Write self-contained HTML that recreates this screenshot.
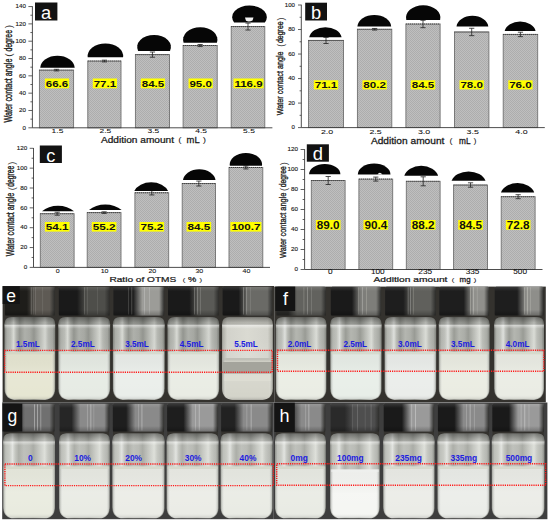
<!DOCTYPE html>
<html><head><meta charset="utf-8"><style>
html,body{margin:0;padding:0;background:#fff;}
body{width:550px;height:523px;overflow:hidden;}
svg{display:block;font-family:"Liberation Sans", sans-serif;}
</style></head><body>
<svg width="550" height="523" viewBox="0 0 550 523">
<defs>
<pattern id="hatch" width="2" height="2" patternUnits="userSpaceOnUse">
<rect width="2" height="2" fill="#bfbfbf"/><rect width="1" height="1" fill="#adadad"/><rect x="1" y="1" width="1" height="1" fill="#adadad"/>
</pattern>
<linearGradient id="capV" x1="0" x2="0" y1="0" y2="1">
<stop offset="0" stop-color="#fff" stop-opacity="0.12"/><stop offset="0.15" stop-color="#fff" stop-opacity="0"/><stop offset="0.8" stop-color="#000" stop-opacity="0"/><stop offset="1" stop-color="#000" stop-opacity="0.25"/>
</linearGradient>
<linearGradient id="glass" x1="0" x2="1" y1="0" y2="0">
<stop offset="0" stop-color="#7c7e78"/><stop offset="0.05" stop-color="#a8aaa4"/><stop offset="0.12" stop-color="#b6b8b2"/><stop offset="0.18" stop-color="#d6d8d2"/><stop offset="0.23" stop-color="#b0b2ac"/><stop offset="0.3" stop-color="#8e908a"/><stop offset="0.4" stop-color="#aaaca6"/><stop offset="0.5" stop-color="#a2a49e"/><stop offset="0.58" stop-color="#8e908a"/><stop offset="0.68" stop-color="#aeb0aa"/><stop offset="0.8" stop-color="#d2d4ce"/><stop offset="0.86" stop-color="#b2b4ae"/><stop offset="0.95" stop-color="#9ea09a"/><stop offset="1" stop-color="#747670"/>
</linearGradient>
<linearGradient id="glassG" x1="0" x2="1" y1="0" y2="0">
<stop offset="0" stop-color="#8a8c86"/><stop offset="0.05" stop-color="#babcb6"/><stop offset="0.12" stop-color="#c6c8c2"/><stop offset="0.18" stop-color="#e0e2de"/><stop offset="0.23" stop-color="#c2c4be"/><stop offset="0.3" stop-color="#a8aaa4"/><stop offset="0.4" stop-color="#bcbeb8"/><stop offset="0.5" stop-color="#b6b8b2"/><stop offset="0.58" stop-color="#a6a8a2"/><stop offset="0.68" stop-color="#c0c2bc"/><stop offset="0.8" stop-color="#dcded8"/><stop offset="0.86" stop-color="#c4c6c0"/><stop offset="0.95" stop-color="#b0b2ac"/><stop offset="1" stop-color="#80827c"/>
</linearGradient>
<linearGradient id="glassF" x1="0" x2="1" y1="0" y2="0">
<stop offset="0" stop-color="#80827c"/><stop offset="0.05" stop-color="#aeb0aa"/><stop offset="0.12" stop-color="#bcbeb8"/><stop offset="0.18" stop-color="#dcdeda"/><stop offset="0.23" stop-color="#b6b8b2"/><stop offset="0.3" stop-color="#959791"/><stop offset="0.4" stop-color="#b0b2ac"/><stop offset="0.5" stop-color="#a8aaa4"/><stop offset="0.58" stop-color="#949690"/><stop offset="0.68" stop-color="#b4b6b0"/><stop offset="0.8" stop-color="#d8dad4"/><stop offset="0.86" stop-color="#b8bab4"/><stop offset="0.95" stop-color="#a4a6a0"/><stop offset="1" stop-color="#787a74"/>
</linearGradient>
<linearGradient id="glassE5" x1="0" x2="1" y1="0" y2="0">
<stop offset="0" stop-color="#a4a49c"/><stop offset="0.1" stop-color="#d0d0c8"/><stop offset="0.5" stop-color="#d8d8d0"/><stop offset="0.9" stop-color="#d0d0c8"/><stop offset="1" stop-color="#a4a49c"/>
</linearGradient>
<linearGradient id="glassV" x1="0" x2="0" y1="0" y2="1">
<stop offset="0" stop-color="#000" stop-opacity="0.4"/><stop offset="0.07" stop-color="#000" stop-opacity="0.15"/><stop offset="0.1" stop-color="#fff" stop-opacity="0.45"/><stop offset="0.14" stop-color="#fff" stop-opacity="0.05"/><stop offset="0.3" stop-color="#fff" stop-opacity="0.05"/><stop offset="0.45" stop-color="#fff" stop-opacity="0.12"/><stop offset="1" stop-color="#fff" stop-opacity="0"/>
</linearGradient>
<linearGradient id="liqH" x1="0" x2="1" y1="0" y2="0">
<stop offset="0" stop-color="#70746e" stop-opacity="0.45"/><stop offset="0.07" stop-color="#fff" stop-opacity="0"/><stop offset="0.93" stop-color="#fff" stop-opacity="0"/><stop offset="1" stop-color="#70746e" stop-opacity="0.45"/>
</linearGradient>
<linearGradient id="liqV" x1="0" x2="0" y1="0" y2="1">
<stop offset="0" stop-color="#000" stop-opacity="0.03"/><stop offset="0.5" stop-color="#fff" stop-opacity="0.08"/><stop offset="0.9" stop-color="#fff" stop-opacity="0"/><stop offset="1" stop-color="#000" stop-opacity="0.12"/>
</linearGradient>
<linearGradient id="capV" x1="0" x2="0" y1="0" y2="1">
<stop offset="0" stop-color="#fff" stop-opacity="0.25"/><stop offset="0.06" stop-color="#fff" stop-opacity="0.05"/><stop offset="0.8" stop-color="#000" stop-opacity="0"/><stop offset="0.9" stop-color="#000" stop-opacity="0.2"/><stop offset="0.95" stop-color="#fff" stop-opacity="0.15"/><stop offset="1" stop-color="#000" stop-opacity="0.3"/>
</linearGradient>
<linearGradient id="cg0" x1="0" x2="1" y1="0" y2="0"><stop offset="0" stop-color="#1e1d1a"/><stop offset="0.44" stop-color="#1e1d1a"/><stop offset="0.62" stop-color="#5e5a54"/><stop offset="0.9" stop-color="#5e5a54"/><stop offset="1" stop-color="#2e2e2c"/></linearGradient>
<linearGradient id="cg1" x1="0" x2="1" y1="0" y2="0"><stop offset="0" stop-color="#1a1a1a"/><stop offset="0.36" stop-color="#1a1a1a"/><stop offset="0.54" stop-color="#4e4e4a"/><stop offset="0.9" stop-color="#4e4e4a"/><stop offset="1" stop-color="#2e2e2c"/></linearGradient>
<linearGradient id="cg2" x1="0" x2="1" y1="0" y2="0"><stop offset="0" stop-color="#1e1e1e"/><stop offset="0.39" stop-color="#1e1e1e"/><stop offset="0.57" stop-color="#9c9c98"/><stop offset="0.9" stop-color="#9c9c98"/><stop offset="1" stop-color="#2e2e2c"/></linearGradient>
<linearGradient id="cg3" x1="0" x2="1" y1="0" y2="0"><stop offset="0" stop-color="#1a1a1a"/><stop offset="0.42" stop-color="#1a1a1a"/><stop offset="0.6" stop-color="#5a5a56"/><stop offset="0.9" stop-color="#5a5a56"/><stop offset="1" stop-color="#2e2e2c"/></linearGradient>
<linearGradient id="cg4" x1="0" x2="1" y1="0" y2="0"><stop offset="0" stop-color="#1a1a1a"/><stop offset="0.32" stop-color="#1a1a1a"/><stop offset="0.5" stop-color="#6a6a66"/><stop offset="0.9" stop-color="#6a6a66"/><stop offset="1" stop-color="#2e2e2c"/></linearGradient>
<linearGradient id="cg5" x1="0" x2="1" y1="0" y2="0"><stop offset="0" stop-color="#2a2a28"/><stop offset="0.24" stop-color="#2a2a28"/><stop offset="0.42" stop-color="#62625e"/><stop offset="0.9" stop-color="#62625e"/><stop offset="1" stop-color="#2e2e2c"/></linearGradient>
<linearGradient id="cg6" x1="0" x2="1" y1="0" y2="0"><stop offset="0" stop-color="#1a1a1a"/><stop offset="0.42" stop-color="#1a1a1a"/><stop offset="0.6" stop-color="#7e7e7a"/><stop offset="0.9" stop-color="#7e7e7a"/><stop offset="1" stop-color="#2e2e2c"/></linearGradient>
<linearGradient id="cg7" x1="0" x2="1" y1="0" y2="0"><stop offset="0" stop-color="#1e1e1e"/><stop offset="0.36" stop-color="#1e1e1e"/><stop offset="0.54" stop-color="#60605c"/><stop offset="0.9" stop-color="#60605c"/><stop offset="1" stop-color="#2e2e2c"/></linearGradient>
<linearGradient id="cg8" x1="0" x2="1" y1="0" y2="0"><stop offset="0" stop-color="#1e1e1e"/><stop offset="0.49" stop-color="#1e1e1e"/><stop offset="0.67" stop-color="#90908c"/><stop offset="0.9" stop-color="#90908c"/><stop offset="1" stop-color="#2e2e2c"/></linearGradient>
<linearGradient id="cg9" x1="0" x2="1" y1="0" y2="0"><stop offset="0" stop-color="#1e1e1e"/><stop offset="0.46" stop-color="#1e1e1e"/><stop offset="0.64" stop-color="#8e8e8a"/><stop offset="0.9" stop-color="#8e8e8a"/><stop offset="1" stop-color="#2e2e2c"/></linearGradient>
<linearGradient id="cg10" x1="0" x2="1" y1="0" y2="0"><stop offset="0" stop-color="#2a2a2a"/><stop offset="0.24" stop-color="#2a2a2a"/><stop offset="0.42" stop-color="#707070"/><stop offset="0.9" stop-color="#707070"/><stop offset="1" stop-color="#2e2e2c"/></linearGradient>
<linearGradient id="cg11" x1="0" x2="1" y1="0" y2="0"><stop offset="0" stop-color="#262626"/><stop offset="0.24" stop-color="#262626"/><stop offset="0.42" stop-color="#8a8a8a"/><stop offset="0.9" stop-color="#8a8a8a"/><stop offset="1" stop-color="#2e2e2c"/></linearGradient>
<linearGradient id="cg12" x1="0" x2="1" y1="0" y2="0"><stop offset="0" stop-color="#1e1e1e"/><stop offset="0.26" stop-color="#1e1e1e"/><stop offset="0.44" stop-color="#8a8a8a"/><stop offset="0.9" stop-color="#8a8a8a"/><stop offset="1" stop-color="#2e2e2c"/></linearGradient>
<linearGradient id="cg13" x1="0" x2="1" y1="0" y2="0"><stop offset="0" stop-color="#1e1e1e"/><stop offset="0.32" stop-color="#1e1e1e"/><stop offset="0.5" stop-color="#9a9a9a"/><stop offset="0.9" stop-color="#9a9a9a"/><stop offset="1" stop-color="#2e2e2c"/></linearGradient>
<linearGradient id="cg14" x1="0" x2="1" y1="0" y2="0"><stop offset="0" stop-color="#222222"/><stop offset="0.26" stop-color="#222222"/><stop offset="0.44" stop-color="#8a8a8a"/><stop offset="0.9" stop-color="#8a8a8a"/><stop offset="1" stop-color="#2e2e2c"/></linearGradient>
<linearGradient id="cg15" x1="0" x2="1" y1="0" y2="0"><stop offset="0" stop-color="#3a3a3a"/><stop offset="0.34" stop-color="#3a3a3a"/><stop offset="0.52" stop-color="#8a8a8a"/><stop offset="0.9" stop-color="#8a8a8a"/><stop offset="1" stop-color="#2e2e2c"/></linearGradient>
<linearGradient id="cg16" x1="0" x2="1" y1="0" y2="0"><stop offset="0" stop-color="#2a2a2a"/><stop offset="0.29" stop-color="#2a2a2a"/><stop offset="0.47" stop-color="#4e4e4e"/><stop offset="0.9" stop-color="#4e4e4e"/><stop offset="1" stop-color="#2e2e2c"/></linearGradient>
<linearGradient id="cg17" x1="0" x2="1" y1="0" y2="0"><stop offset="0" stop-color="#1a1a1a"/><stop offset="0.36" stop-color="#1a1a1a"/><stop offset="0.54" stop-color="#9a9a9a"/><stop offset="0.9" stop-color="#9a9a9a"/><stop offset="1" stop-color="#2e2e2c"/></linearGradient>
<linearGradient id="cg18" x1="0" x2="1" y1="0" y2="0"><stop offset="0" stop-color="#1a1a1a"/><stop offset="0.32" stop-color="#1a1a1a"/><stop offset="0.5" stop-color="#8a8a8a"/><stop offset="0.9" stop-color="#8a8a8a"/><stop offset="1" stop-color="#2e2e2c"/></linearGradient>
<linearGradient id="cg19" x1="0" x2="1" y1="0" y2="0"><stop offset="0" stop-color="#1a1a1a"/><stop offset="0.32" stop-color="#1a1a1a"/><stop offset="0.5" stop-color="#9a9a9a"/><stop offset="0.9" stop-color="#9a9a9a"/><stop offset="1" stop-color="#2e2e2c"/></linearGradient>
</defs>
<rect x="39.4" y="70.12" width="34.2" height="57.68" fill="url(#hatch)" stroke="#707070" stroke-width="0.9"/>
<line x1="39.4" y1="70.12" x2="73.6" y2="70.12" stroke="#333" stroke-width="0.9" stroke-dasharray="1,1"/>
<path d="M56.5,69.32 V70.92 M53.9,69.32 H59.1 M53.9,70.92 H59.1" stroke="#222" stroke-width="0.8" fill="none"/>
<rect x="87.8" y="61.03" width="33.2" height="66.77" fill="url(#hatch)" stroke="#707070" stroke-width="0.9"/>
<line x1="87.8" y1="61.03" x2="121" y2="61.03" stroke="#333" stroke-width="0.9" stroke-dasharray="1,1"/>
<path d="M104.4,60.17 V61.9 M101.8,60.17 H107 M101.8,61.9 H107" stroke="#222" stroke-width="0.8" fill="none"/>
<rect x="135.4" y="54.62" width="34.1" height="73.18" fill="url(#hatch)" stroke="#707070" stroke-width="0.9"/>
<line x1="135.4" y1="54.62" x2="169.5" y2="54.62" stroke="#333" stroke-width="0.9" stroke-dasharray="1,1"/>
<path d="M152.45,52.03 V57.22 M149.85,52.03 H155.05 M149.85,57.22 H155.05" stroke="#222" stroke-width="0.8" fill="none"/>
<rect x="183.1" y="45.53" width="34.1" height="82.27" fill="url(#hatch)" stroke="#707070" stroke-width="0.9"/>
<line x1="183.1" y1="45.53" x2="217.2" y2="45.53" stroke="#333" stroke-width="0.9" stroke-dasharray="1,1"/>
<path d="M200.15,44.49 V46.57 M197.55,44.49 H202.75 M197.55,46.57 H202.75" stroke="#222" stroke-width="0.8" fill="none"/>
<rect x="231.2" y="26.56" width="33.6" height="101.24" fill="url(#hatch)" stroke="#707070" stroke-width="0.9"/>
<line x1="231.2" y1="26.56" x2="264.8" y2="26.56" stroke="#333" stroke-width="0.9" stroke-dasharray="1,1"/>
<path d="M248,23.1 V30.03 M245.4,23.1 H250.6 M245.4,30.03 H250.6" stroke="#222" stroke-width="0.8" fill="none"/>
<path d="M40.2,67.7 A17.27,12.44 0 0 1 74.7,67.7 Z" fill="#060606"/>
<path d="M87.7,57.3 A17.76,12.78 0 1 1 123.1,57.3 Z" fill="#060606"/>
<path d="M138.1,51 A16.87,12.15 0 1 1 170,51 Z" fill="#060606"/>
<path d="M183.6,42.8 A17.2,12.39 0 1 1 216.9,42.8 Z" fill="#060606"/>
<path d="M234.07,22.4 A17.3,11.64 0 1 1 264.93,22.4 Z" fill="#060606"/>
<path d="M245,17.6 H253.5 L252.5,20.5 Q249,22.2 246,20.8 Z" fill="#f4f4f4"/>
<rect x="44.9" y="78.5" width="24.2" height="9.8" fill="#ffff00"/>
<text font-size="11.51" font-weight="bold" fill="#111" transform="translate(45.8 86.8) scale(1 0.83)">66.6</text>
<rect x="92.8" y="78.5" width="24.2" height="9.8" fill="#ffff00"/>
<text font-size="11.51" font-weight="bold" fill="#111" transform="translate(93.7 86.8) scale(1 0.83)">77.1</text>
<rect x="140.85" y="78.5" width="24.2" height="9.8" fill="#ffff00"/>
<text font-size="11.51" font-weight="bold" fill="#111" transform="translate(141.75 86.8) scale(1 0.83)">84.5</text>
<rect x="188.55" y="78.5" width="24.2" height="9.8" fill="#ffff00"/>
<text font-size="11.51" font-weight="bold" fill="#111" transform="translate(189.45 86.8) scale(1 0.83)">95.0</text>
<rect x="233.5" y="78.5" width="30" height="9.8" fill="#ffff00"/>
<text font-size="11.52" font-weight="bold" fill="#111" transform="translate(234.4 86.8) scale(1 0.83)">116.9</text>
<path d="M32.4,6.26 V127.8 H272.4" stroke="#3a3a3a" stroke-width="0.9" fill="none"/>
<line x1="28.4" y1="127.8" x2="32.4" y2="127.8" stroke="#3a3a3a" stroke-width="0.8"/>
<text font-size="6.23" fill="#1a1a1a" transform="translate(22.43 129.5) scale(1 0.79)" stroke="#1a1a1a" stroke-width="0.15">0</text>
<line x1="30.4" y1="119.14" x2="32.4" y2="119.14" stroke="#3a3a3a" stroke-width="0.8"/>
<line x1="28.4" y1="110.48" x2="32.4" y2="110.48" stroke="#3a3a3a" stroke-width="0.8"/>
<text font-size="6.23" fill="#1a1a1a" transform="translate(18.97 112.18) scale(1 0.79)" stroke="#1a1a1a" stroke-width="0.15">20</text>
<line x1="30.4" y1="101.82" x2="32.4" y2="101.82" stroke="#3a3a3a" stroke-width="0.8"/>
<line x1="28.4" y1="93.16" x2="32.4" y2="93.16" stroke="#3a3a3a" stroke-width="0.8"/>
<text font-size="6.23" fill="#1a1a1a" transform="translate(18.97 94.86) scale(1 0.79)" stroke="#1a1a1a" stroke-width="0.15">40</text>
<line x1="30.4" y1="84.5" x2="32.4" y2="84.5" stroke="#3a3a3a" stroke-width="0.8"/>
<line x1="28.4" y1="75.84" x2="32.4" y2="75.84" stroke="#3a3a3a" stroke-width="0.8"/>
<text font-size="6.23" fill="#1a1a1a" transform="translate(18.97 77.54) scale(1 0.79)" stroke="#1a1a1a" stroke-width="0.15">60</text>
<line x1="30.4" y1="67.18" x2="32.4" y2="67.18" stroke="#3a3a3a" stroke-width="0.8"/>
<line x1="28.4" y1="58.52" x2="32.4" y2="58.52" stroke="#3a3a3a" stroke-width="0.8"/>
<text font-size="6.23" fill="#1a1a1a" transform="translate(18.97 60.22) scale(1 0.79)" stroke="#1a1a1a" stroke-width="0.15">80</text>
<line x1="30.4" y1="49.86" x2="32.4" y2="49.86" stroke="#3a3a3a" stroke-width="0.8"/>
<line x1="28.4" y1="41.2" x2="32.4" y2="41.2" stroke="#3a3a3a" stroke-width="0.8"/>
<text font-size="6.23" fill="#1a1a1a" transform="translate(15.5 42.9) scale(1 0.79)" stroke="#1a1a1a" stroke-width="0.15">100</text>
<line x1="30.4" y1="32.54" x2="32.4" y2="32.54" stroke="#3a3a3a" stroke-width="0.8"/>
<line x1="28.4" y1="23.88" x2="32.4" y2="23.88" stroke="#3a3a3a" stroke-width="0.8"/>
<text font-size="6.23" fill="#1a1a1a" transform="translate(15.5 25.58) scale(1 0.79)" stroke="#1a1a1a" stroke-width="0.15">120</text>
<line x1="30.4" y1="15.22" x2="32.4" y2="15.22" stroke="#3a3a3a" stroke-width="0.8"/>
<line x1="28.4" y1="6.56" x2="32.4" y2="6.56" stroke="#3a3a3a" stroke-width="0.8"/>
<text font-size="6.23" fill="#1a1a1a" transform="translate(15.5 8.26) scale(1 0.79)" stroke="#1a1a1a" stroke-width="0.15">140</text>
<text font-size="8.45" fill="#111" transform="translate(51.62 133.2) scale(1 0.69)" stroke="#111" stroke-width="0.1">1.5</text>
<text font-size="8.45" fill="#111" transform="translate(99.53 133.2) scale(1 0.69)" stroke="#111" stroke-width="0.1">2.5</text>
<text font-size="8.45" fill="#111" transform="translate(147.57 133.2) scale(1 0.69)" stroke="#111" stroke-width="0.1">3.5</text>
<text font-size="8.45" fill="#111" transform="translate(195.27 133.2) scale(1 0.69)" stroke="#111" stroke-width="0.1">4.5</text>
<text font-size="8.45" fill="#111" transform="translate(243.12 133.2) scale(1 0.69)" stroke="#111" stroke-width="0.1">5.5</text>
<text font-size="10.13" fill="#1a1a1a" transform="translate(100.9 142.9) scale(1 0.82)" stroke="#1a1a1a" stroke-width="0.3">Addition amount</text>
<text font-size="9.91" fill="#1a1a1a" transform="translate(178.3 142.4) scale(1 0.67)">(</text>
<text font-size="9.36" fill="#1a1a1a" transform="translate(186.6 142.9) scale(1 0.89)" stroke="#1a1a1a" stroke-width="0.3">mL</text>
<text font-size="9.91" fill="#1a1a1a" transform="translate(202.7 142.4) scale(1 0.67)">)</text>
<text font-size="7.24" fill="#222" transform="translate(11.5 122.5) rotate(-90) scale(1 1.41)" stroke="#222" stroke-width="0.25">Water contact angle</text>
<text font-size="9.91" fill="#333" transform="translate(12.3 56.8) rotate(-90) scale(1 0.88)">(</text>
<text font-size="6.94" fill="#222" transform="translate(11.5 51.6) rotate(-90) scale(1 1.47)" stroke="#222" stroke-width="0.25">degree</text>
<text font-size="9.91" fill="#333" transform="translate(12.3 28.3) rotate(-90) scale(1 0.88)">)</text>
<rect x="35" y="2.5" width="22.4" height="18" fill="#121212"/>
<text x="46.2" y="18.6" text-anchor="middle" font-size="18.3" fill="#fff">a</text>
<rect x="308.5" y="40.43" width="35" height="87.17" fill="url(#hatch)" stroke="#707070" stroke-width="0.9"/>
<line x1="308.5" y1="40.43" x2="343.5" y2="40.43" stroke="#333" stroke-width="0.9" stroke-dasharray="1,1"/>
<path d="M326,37.37 V43.5 M323.4,37.37 H328.6 M323.4,43.5 H328.6" stroke="#222" stroke-width="0.8" fill="none"/>
<rect x="357.4" y="29.27" width="34.4" height="98.33" fill="url(#hatch)" stroke="#707070" stroke-width="0.9"/>
<line x1="357.4" y1="29.27" x2="391.8" y2="29.27" stroke="#333" stroke-width="0.9" stroke-dasharray="1,1"/>
<path d="M374.6,28.47 V30.07 M372,28.47 H377.2 M372,30.07 H377.2" stroke="#222" stroke-width="0.8" fill="none"/>
<rect x="405.9" y="24" width="34.2" height="103.6" fill="url(#hatch)" stroke="#707070" stroke-width="0.9"/>
<line x1="405.9" y1="24" x2="440.1" y2="24" stroke="#333" stroke-width="0.9" stroke-dasharray="1,1"/>
<path d="M423,20.32 V27.68 M420.4,20.32 H425.6 M420.4,27.68 H425.6" stroke="#222" stroke-width="0.8" fill="none"/>
<rect x="454.5" y="31.97" width="34.4" height="95.63" fill="url(#hatch)" stroke="#707070" stroke-width="0.9"/>
<line x1="454.5" y1="31.97" x2="488.9" y2="31.97" stroke="#333" stroke-width="0.9" stroke-dasharray="1,1"/>
<path d="M471.7,28.29 V35.65 M469.1,28.29 H474.3 M469.1,35.65 H474.3" stroke="#222" stroke-width="0.8" fill="none"/>
<rect x="503.2" y="34.42" width="34.5" height="93.18" fill="url(#hatch)" stroke="#707070" stroke-width="0.9"/>
<line x1="503.2" y1="34.42" x2="537.7" y2="34.42" stroke="#333" stroke-width="0.9" stroke-dasharray="1,1"/>
<path d="M520.45,32.22 V36.63 M517.85,32.22 H523.05 M517.85,36.63 H523.05" stroke="#222" stroke-width="0.8" fill="none"/>
<path d="M309.2,37.3 A16.37,11.79 0 0 1 341.6,37.3 Z" fill="#060606"/>
<path d="M357.4,26.4 A16.93,12.19 0 0 1 391.2,26.4 Z" fill="#060606"/>
<path d="M406.3,20.1 A17.25,12.42 0 1 1 440.1,20.1 Z" fill="#060606"/>
<path d="M456.5,26.4 A15.95,11.48 0 0 1 488.3,26.4 Z" fill="#060606"/>
<path d="M504.7,31 A15.64,11.26 0 0 1 535.6,31 Z" fill="#060606"/>
<rect x="313.85" y="80.3" width="24.3" height="9.1" fill="#ffff00"/>
<text font-size="11.61" font-weight="bold" fill="#111" transform="translate(314.7 88.4) scale(1 0.79)">71.1</text>
<rect x="362.45" y="80.3" width="24.3" height="9.1" fill="#ffff00"/>
<text font-size="11.61" font-weight="bold" fill="#111" transform="translate(363.3 88.4) scale(1 0.79)">80.2</text>
<rect x="410.85" y="80.3" width="24.3" height="9.1" fill="#ffff00"/>
<text font-size="11.61" font-weight="bold" fill="#111" transform="translate(411.7 88.4) scale(1 0.79)">84.5</text>
<rect x="459.55" y="80.3" width="24.3" height="9.1" fill="#ffff00"/>
<text font-size="11.61" font-weight="bold" fill="#111" transform="translate(460.4 88.4) scale(1 0.79)">78.0</text>
<rect x="508.3" y="80.3" width="24.3" height="9.1" fill="#ffff00"/>
<text font-size="11.61" font-weight="bold" fill="#111" transform="translate(509.15 88.4) scale(1 0.79)">76.0</text>
<path d="M301.3,4.7 V127.6 H544.8" stroke="#3a3a3a" stroke-width="0.9" fill="none"/>
<line x1="298" y1="127.6" x2="301.3" y2="127.6" stroke="#3a3a3a" stroke-width="0.8"/>
<text font-size="6.11" fill="#1a1a1a" transform="translate(291.6 129.25) scale(1 0.78)" stroke="#1a1a1a" stroke-width="0.15">0</text>
<line x1="299.6" y1="115.34" x2="301.3" y2="115.34" stroke="#3a3a3a" stroke-width="0.8"/>
<line x1="298" y1="103.08" x2="301.3" y2="103.08" stroke="#3a3a3a" stroke-width="0.8"/>
<text font-size="6.11" fill="#1a1a1a" transform="translate(288.2 104.73) scale(1 0.78)" stroke="#1a1a1a" stroke-width="0.15">20</text>
<line x1="299.6" y1="90.82" x2="301.3" y2="90.82" stroke="#3a3a3a" stroke-width="0.8"/>
<line x1="298" y1="78.56" x2="301.3" y2="78.56" stroke="#3a3a3a" stroke-width="0.8"/>
<text font-size="6.11" fill="#1a1a1a" transform="translate(288.2 80.21) scale(1 0.78)" stroke="#1a1a1a" stroke-width="0.15">40</text>
<line x1="299.6" y1="66.3" x2="301.3" y2="66.3" stroke="#3a3a3a" stroke-width="0.8"/>
<line x1="298" y1="54.04" x2="301.3" y2="54.04" stroke="#3a3a3a" stroke-width="0.8"/>
<text font-size="6.11" fill="#1a1a1a" transform="translate(288.2 55.69) scale(1 0.78)" stroke="#1a1a1a" stroke-width="0.15">60</text>
<line x1="299.6" y1="41.78" x2="301.3" y2="41.78" stroke="#3a3a3a" stroke-width="0.8"/>
<line x1="298" y1="29.52" x2="301.3" y2="29.52" stroke="#3a3a3a" stroke-width="0.8"/>
<text font-size="6.11" fill="#1a1a1a" transform="translate(288.2 31.17) scale(1 0.78)" stroke="#1a1a1a" stroke-width="0.15">80</text>
<line x1="299.6" y1="17.26" x2="301.3" y2="17.26" stroke="#3a3a3a" stroke-width="0.8"/>
<line x1="298" y1="5" x2="301.3" y2="5" stroke="#3a3a3a" stroke-width="0.8"/>
<text font-size="6.11" fill="#1a1a1a" transform="translate(284.8 6.65) scale(1 0.78)" stroke="#1a1a1a" stroke-width="0.15">100</text>
<text font-size="8.81" fill="#111" transform="translate(320.88 133.8) scale(1 0.66)" stroke="#111" stroke-width="0.1">2.0</text>
<text font-size="8.81" fill="#111" transform="translate(369.48 133.8) scale(1 0.66)" stroke="#111" stroke-width="0.1">2.5</text>
<text font-size="8.81" fill="#111" transform="translate(417.88 133.8) scale(1 0.66)" stroke="#111" stroke-width="0.1">3.0</text>
<text font-size="8.81" fill="#111" transform="translate(466.57 133.8) scale(1 0.66)" stroke="#111" stroke-width="0.1">3.5</text>
<text font-size="8.81" fill="#111" transform="translate(515.33 133.8) scale(1 0.66)" stroke="#111" stroke-width="0.1">4.0</text>
<text font-size="10.18" fill="#1a1a1a" transform="translate(370.9 143.7) scale(1 0.86)" stroke="#1a1a1a" stroke-width="0.3">Addition amount</text>
<text font-size="9.01" fill="#1a1a1a" transform="translate(449.5 143.2) scale(1 0.78)">(</text>
<text font-size="8.28" fill="#1a1a1a" transform="translate(459.1 143.7) scale(1 1.05)" stroke="#1a1a1a" stroke-width="0.3">mL</text>
<text font-size="9.01" fill="#1a1a1a" transform="translate(473.6 143.2) scale(1 0.78)">)</text>
<text font-size="7.22" fill="#222" transform="translate(282.8 115.3) rotate(-90) scale(1 1.33)" stroke="#222" stroke-width="0.25">Water contact angle</text>
<text font-size="8.71" fill="#333" transform="translate(283.6 46.8) rotate(-90) scale(1 0.94)">(</text>
<text font-size="6.94" fill="#222" transform="translate(282.8 43) rotate(-90) scale(1 1.38)" stroke="#222" stroke-width="0.25">degree</text>
<text font-size="9.01" fill="#333" transform="translate(283.6 20.5) rotate(-90) scale(1 0.91)">)</text>
<rect x="305.2" y="2.7" width="21.8" height="17.8" fill="#121212"/>
<text x="316.1" y="18.5" text-anchor="middle" font-size="18.3" fill="#fff">b</text>
<rect x="40.3" y="213.71" width="33.8" height="53.69" fill="url(#hatch)" stroke="#707070" stroke-width="0.9"/>
<line x1="40.3" y1="213.71" x2="74.1" y2="213.71" stroke="#333" stroke-width="0.9" stroke-dasharray="1,1"/>
<path d="M57.2,212.22 V215.19 M54.6,212.22 H59.8 M54.6,215.19 H59.8" stroke="#222" stroke-width="0.8" fill="none"/>
<rect x="87.2" y="212.61" width="33.8" height="54.79" fill="url(#hatch)" stroke="#707070" stroke-width="0.9"/>
<line x1="87.2" y1="212.61" x2="121" y2="212.61" stroke="#333" stroke-width="0.9" stroke-dasharray="1,1"/>
<path d="M104.1,211.81 V213.41 M101.5,211.81 H106.7 M101.5,213.41 H106.7" stroke="#222" stroke-width="0.8" fill="none"/>
<rect x="134.9" y="192.76" width="33.8" height="74.64" fill="url(#hatch)" stroke="#707070" stroke-width="0.9"/>
<line x1="134.9" y1="192.76" x2="168.7" y2="192.76" stroke="#333" stroke-width="0.9" stroke-dasharray="1,1"/>
<path d="M151.8,190.58 V194.95 M149.2,190.58 H154.4 M149.2,194.95 H154.4" stroke="#222" stroke-width="0.8" fill="none"/>
<rect x="182.2" y="183.53" width="33.3" height="83.87" fill="url(#hatch)" stroke="#707070" stroke-width="0.9"/>
<line x1="182.2" y1="183.53" x2="215.5" y2="183.53" stroke="#333" stroke-width="0.9" stroke-dasharray="1,1"/>
<path d="M198.85,181.05 V186.01 M196.25,181.05 H201.45 M196.25,186.01 H201.45" stroke="#222" stroke-width="0.8" fill="none"/>
<rect x="229" y="167.46" width="33.8" height="99.94" fill="url(#hatch)" stroke="#707070" stroke-width="0.9"/>
<line x1="229" y1="167.46" x2="262.8" y2="167.46" stroke="#333" stroke-width="0.9" stroke-dasharray="1,1"/>
<path d="M245.9,165.97 V168.94 M243.3,165.97 H248.5 M243.3,168.94 H248.5" stroke="#222" stroke-width="0.8" fill="none"/>
<path d="M42,211.2 A20.58,14.81 0 0 1 74,211.2 Z" fill="#060606"/>
<path d="M89,210 A21.46,15.45 0 0 1 121.6,210 Z" fill="#060606"/>
<path d="M134.3,191 A17.8,12.81 0 0 1 168.1,191 Z" fill="#060606"/>
<path d="M183,180.1 A16.3,11.74 0 0 1 215.5,180.1 Z" fill="#060606"/>
<path d="M229.8,165.8 A16.19,11.66 0 1 1 262,165.8 Z" fill="#060606"/>
<rect x="44.9" y="222" width="24.6" height="9.6" fill="#ffff00"/>
<text font-size="11.71" font-weight="bold" fill="#111" transform="translate(45.8 230.3) scale(1 0.81)">54.1</text>
<rect x="91.8" y="222" width="24.6" height="9.6" fill="#ffff00"/>
<text font-size="11.71" font-weight="bold" fill="#111" transform="translate(92.7 230.3) scale(1 0.81)">55.2</text>
<rect x="139.5" y="222" width="24.6" height="9.6" fill="#ffff00"/>
<text font-size="11.71" font-weight="bold" fill="#111" transform="translate(140.4 230.3) scale(1 0.81)">75.2</text>
<rect x="186.55" y="222" width="24.6" height="9.6" fill="#ffff00"/>
<text font-size="11.71" font-weight="bold" fill="#111" transform="translate(187.45 230.3) scale(1 0.81)">84.5</text>
<rect x="230.4" y="222" width="31" height="9.6" fill="#ffff00"/>
<text font-size="11.59" font-weight="bold" fill="#111" transform="translate(231.4 230.3) scale(1 0.82)">100.7</text>
<path d="M33.5,148 V267.4 H270" stroke="#3a3a3a" stroke-width="0.9" fill="none"/>
<line x1="29.7" y1="267.4" x2="33.5" y2="267.4" stroke="#3a3a3a" stroke-width="0.8"/>
<text font-size="6.29" fill="#1a1a1a" transform="translate(23.7 269.1) scale(1 0.79)" stroke="#1a1a1a" stroke-width="0.15">0</text>
<line x1="31.6" y1="257.47" x2="33.5" y2="257.47" stroke="#3a3a3a" stroke-width="0.8"/>
<line x1="29.7" y1="247.55" x2="33.5" y2="247.55" stroke="#3a3a3a" stroke-width="0.8"/>
<text font-size="6.29" fill="#1a1a1a" transform="translate(20.2 249.25) scale(1 0.79)" stroke="#1a1a1a" stroke-width="0.15">20</text>
<line x1="31.6" y1="237.62" x2="33.5" y2="237.62" stroke="#3a3a3a" stroke-width="0.8"/>
<line x1="29.7" y1="227.7" x2="33.5" y2="227.7" stroke="#3a3a3a" stroke-width="0.8"/>
<text font-size="6.29" fill="#1a1a1a" transform="translate(20.2 229.4) scale(1 0.79)" stroke="#1a1a1a" stroke-width="0.15">40</text>
<line x1="31.6" y1="217.77" x2="33.5" y2="217.77" stroke="#3a3a3a" stroke-width="0.8"/>
<line x1="29.7" y1="207.85" x2="33.5" y2="207.85" stroke="#3a3a3a" stroke-width="0.8"/>
<text font-size="6.29" fill="#1a1a1a" transform="translate(20.2 209.55) scale(1 0.79)" stroke="#1a1a1a" stroke-width="0.15">60</text>
<line x1="31.6" y1="197.92" x2="33.5" y2="197.92" stroke="#3a3a3a" stroke-width="0.8"/>
<line x1="29.7" y1="188" x2="33.5" y2="188" stroke="#3a3a3a" stroke-width="0.8"/>
<text font-size="6.29" fill="#1a1a1a" transform="translate(20.2 189.7) scale(1 0.79)" stroke="#1a1a1a" stroke-width="0.15">80</text>
<line x1="31.6" y1="178.07" x2="33.5" y2="178.07" stroke="#3a3a3a" stroke-width="0.8"/>
<line x1="29.7" y1="168.15" x2="33.5" y2="168.15" stroke="#3a3a3a" stroke-width="0.8"/>
<text font-size="6.29" fill="#1a1a1a" transform="translate(16.7 169.85) scale(1 0.79)" stroke="#1a1a1a" stroke-width="0.15">100</text>
<line x1="31.6" y1="158.22" x2="33.5" y2="158.22" stroke="#3a3a3a" stroke-width="0.8"/>
<line x1="29.7" y1="148.3" x2="33.5" y2="148.3" stroke="#3a3a3a" stroke-width="0.8"/>
<text font-size="6.29" fill="#1a1a1a" transform="translate(16.7 150) scale(1 0.79)" stroke="#1a1a1a" stroke-width="0.15">120</text>
<text font-size="7.01" fill="#111" transform="translate(55.75 272.5) scale(1 0.87)" stroke="#111" stroke-width="0.1">0</text>
<text font-size="7.01" fill="#111" transform="translate(100.7 272.5) scale(1 0.87)" stroke="#111" stroke-width="0.1">10</text>
<text font-size="7.01" fill="#111" transform="translate(148.4 272.5) scale(1 0.87)" stroke="#111" stroke-width="0.1">20</text>
<text font-size="7.01" fill="#111" transform="translate(195.45 272.5) scale(1 0.87)" stroke="#111" stroke-width="0.1">30</text>
<text font-size="7.01" fill="#111" transform="translate(242.5 272.5) scale(1 0.87)" stroke="#111" stroke-width="0.1">40</text>
<text font-size="10.13" fill="#1a1a1a" transform="translate(109.4 282.2) scale(1 0.76)" stroke="#1a1a1a" stroke-width="0.3">Ratio of OTMS</text>
<text font-size="9.01" fill="#1a1a1a" transform="translate(182.6 281.7) scale(1 0.69)">(</text>
<text font-size="9.33" fill="#1a1a1a" transform="translate(187.9 282.2) scale(1 0.83)" stroke="#1a1a1a" stroke-width="0.3">%</text>
<text font-size="9.01" fill="#1a1a1a" transform="translate(199.2 281.7) scale(1 0.69)">)</text>
<text font-size="7.2" fill="#222" transform="translate(13.8 256.3) rotate(-90) scale(1 1.39)" stroke="#222" stroke-width="0.25">Water contact angle</text>
<text font-size="9.01" fill="#333" transform="translate(14.6 190.3) rotate(-90) scale(1 0.95)">(</text>
<text font-size="6.74" fill="#222" transform="translate(13.8 186.8) rotate(-90) scale(1 1.49)" stroke="#222" stroke-width="0.25">degree</text>
<text font-size="9.01" fill="#333" transform="translate(14.6 164.8) rotate(-90) scale(1 0.95)">)</text>
<rect x="39.8" y="145.5" width="22.1" height="17.5" fill="#121212"/>
<text x="50.85" y="161.5" text-anchor="middle" font-size="18.2" fill="#fff">c</text>
<rect x="311.3" y="180.5" width="33.8" height="89" fill="url(#hatch)" stroke="#707070" stroke-width="0.9"/>
<line x1="311.3" y1="180.5" x2="345.1" y2="180.5" stroke="#333" stroke-width="0.9" stroke-dasharray="1,1"/>
<path d="M328.2,176.5 V184.5 M325.6,176.5 H330.8 M325.6,184.5 H330.8" stroke="#222" stroke-width="0.8" fill="none"/>
<rect x="358.9" y="179.1" width="33.8" height="90.4" fill="url(#hatch)" stroke="#707070" stroke-width="0.9"/>
<line x1="358.9" y1="179.1" x2="392.7" y2="179.1" stroke="#333" stroke-width="0.9" stroke-dasharray="1,1"/>
<path d="M375.8,177.1 V181.1 M373.2,177.1 H378.4 M373.2,181.1 H378.4" stroke="#222" stroke-width="0.8" fill="none"/>
<rect x="406.3" y="181.3" width="33.8" height="88.2" fill="url(#hatch)" stroke="#707070" stroke-width="0.9"/>
<line x1="406.3" y1="181.3" x2="440.1" y2="181.3" stroke="#333" stroke-width="0.9" stroke-dasharray="1,1"/>
<path d="M423.2,176.8 V185.8 M420.6,176.8 H425.8 M420.6,185.8 H425.8" stroke="#222" stroke-width="0.8" fill="none"/>
<rect x="453.6" y="185" width="33.9" height="84.5" fill="url(#hatch)" stroke="#707070" stroke-width="0.9"/>
<line x1="453.6" y1="185" x2="487.5" y2="185" stroke="#333" stroke-width="0.9" stroke-dasharray="1,1"/>
<path d="M470.55,182.8 V187.2 M467.95,182.8 H473.15 M467.95,187.2 H473.15" stroke="#222" stroke-width="0.8" fill="none"/>
<rect x="501.2" y="196.7" width="33.9" height="72.8" fill="url(#hatch)" stroke="#707070" stroke-width="0.9"/>
<line x1="501.2" y1="196.7" x2="535.1" y2="196.7" stroke="#333" stroke-width="0.9" stroke-dasharray="1,1"/>
<path d="M518.15,194.7 V198.7 M515.55,194.7 H520.75 M515.55,198.7 H520.75" stroke="#222" stroke-width="0.8" fill="none"/>
<path d="M309.1,174.2 A15.65,10.3 0 0 1 340.4,174.2 Z" fill="#060606"/>
<path d="M357.8,174.5 A16.35,11.1 0 0 1 390.5,174.5 Z" fill="#060606"/>
<path d="M404.3,175.8 A17.23,12.4 0 0 1 438.1,175.8 Z" fill="#060606"/>
<path d="M451.6,180.7 A17.63,12.69 0 0 1 485.5,180.7 Z" fill="#060606"/>
<path d="M501,192.5 A17.04,12.27 0 0 1 534.2,192.5 Z" fill="#060606"/>
<path d="M377.5,174.4 Q379.5,171.3 382.5,174.4 Z" fill="#f4f4f4"/>
<rect x="315.9" y="220" width="24.6" height="9.7" fill="#ffff00"/>
<text font-size="11.71" font-weight="bold" fill="#111" transform="translate(316.8 228.6) scale(1 0.88)">89.0</text>
<rect x="363.5" y="220" width="24.6" height="9.7" fill="#ffff00"/>
<text font-size="11.71" font-weight="bold" fill="#111" transform="translate(364.4 228.6) scale(1 0.88)">90.4</text>
<rect x="410.9" y="220" width="24.6" height="9.7" fill="#ffff00"/>
<text font-size="11.71" font-weight="bold" fill="#111" transform="translate(411.8 228.6) scale(1 0.88)">88.2</text>
<rect x="458.25" y="220" width="24.6" height="9.7" fill="#ffff00"/>
<text font-size="11.71" font-weight="bold" fill="#111" transform="translate(459.15 228.6) scale(1 0.88)">84.5</text>
<rect x="505.85" y="220" width="24.6" height="9.7" fill="#ffff00"/>
<text font-size="11.71" font-weight="bold" fill="#111" transform="translate(506.75 228.6) scale(1 0.88)">72.8</text>
<path d="M304.6,149.2 V269.5 H542.5" stroke="#3a3a3a" stroke-width="0.9" fill="none"/>
<line x1="300.6" y1="269.5" x2="304.6" y2="269.5" stroke="#3a3a3a" stroke-width="0.8"/>
<text font-size="6.29" fill="#1a1a1a" transform="translate(294.4 271.2) scale(1 0.79)" stroke="#1a1a1a" stroke-width="0.15">0</text>
<line x1="302.6" y1="259.5" x2="304.6" y2="259.5" stroke="#3a3a3a" stroke-width="0.8"/>
<line x1="300.6" y1="249.5" x2="304.6" y2="249.5" stroke="#3a3a3a" stroke-width="0.8"/>
<text font-size="6.29" fill="#1a1a1a" transform="translate(290.9 251.2) scale(1 0.79)" stroke="#1a1a1a" stroke-width="0.15">20</text>
<line x1="302.6" y1="239.5" x2="304.6" y2="239.5" stroke="#3a3a3a" stroke-width="0.8"/>
<line x1="300.6" y1="229.5" x2="304.6" y2="229.5" stroke="#3a3a3a" stroke-width="0.8"/>
<text font-size="6.29" fill="#1a1a1a" transform="translate(290.9 231.2) scale(1 0.79)" stroke="#1a1a1a" stroke-width="0.15">40</text>
<line x1="302.6" y1="219.5" x2="304.6" y2="219.5" stroke="#3a3a3a" stroke-width="0.8"/>
<line x1="300.6" y1="209.5" x2="304.6" y2="209.5" stroke="#3a3a3a" stroke-width="0.8"/>
<text font-size="6.29" fill="#1a1a1a" transform="translate(290.9 211.2) scale(1 0.79)" stroke="#1a1a1a" stroke-width="0.15">60</text>
<line x1="302.6" y1="199.5" x2="304.6" y2="199.5" stroke="#3a3a3a" stroke-width="0.8"/>
<line x1="300.6" y1="189.5" x2="304.6" y2="189.5" stroke="#3a3a3a" stroke-width="0.8"/>
<text font-size="6.29" fill="#1a1a1a" transform="translate(290.9 191.2) scale(1 0.79)" stroke="#1a1a1a" stroke-width="0.15">80</text>
<line x1="302.6" y1="179.5" x2="304.6" y2="179.5" stroke="#3a3a3a" stroke-width="0.8"/>
<line x1="300.6" y1="169.5" x2="304.6" y2="169.5" stroke="#3a3a3a" stroke-width="0.8"/>
<text font-size="6.29" fill="#1a1a1a" transform="translate(287.4 171.2) scale(1 0.79)" stroke="#1a1a1a" stroke-width="0.15">100</text>
<line x1="302.6" y1="159.5" x2="304.6" y2="159.5" stroke="#3a3a3a" stroke-width="0.8"/>
<line x1="300.6" y1="149.5" x2="304.6" y2="149.5" stroke="#3a3a3a" stroke-width="0.8"/>
<text font-size="6.29" fill="#1a1a1a" transform="translate(287.4 151.2) scale(1 0.79)" stroke="#1a1a1a" stroke-width="0.15">120</text>
<text font-size="8.27" fill="#111" transform="translate(327.9 274.4) scale(1 0.81)" stroke="#111" stroke-width="0.1">0</text>
<text font-size="8.27" fill="#111" transform="translate(370.9 274.4) scale(1 0.81)" stroke="#111" stroke-width="0.1">100</text>
<text font-size="8.27" fill="#111" transform="translate(418.3 274.4) scale(1 0.81)" stroke="#111" stroke-width="0.1">235</text>
<text font-size="8.27" fill="#111" transform="translate(465.65 274.4) scale(1 0.81)" stroke="#111" stroke-width="0.1">335</text>
<text font-size="8.27" fill="#111" transform="translate(513.25 274.4) scale(1 0.81)" stroke="#111" stroke-width="0.1">500</text>
<text font-size="10.27" fill="#1a1a1a" transform="translate(373.4 282.2) scale(1 0.74)" stroke="#1a1a1a" stroke-width="0.3">Addition amount</text>
<text font-size="9.01" fill="#1a1a1a" transform="translate(451.4 281.7) scale(1 0.68)">(</text>
<text font-size="7.92" fill="#1a1a1a" transform="translate(459.6 282.2) scale(1 0.95)" stroke="#1a1a1a" stroke-width="0.3">mg</text>
<text font-size="9.01" fill="#1a1a1a" transform="translate(473.6 281.7) scale(1 0.68)">)</text>
<text font-size="7.38" fill="#222" transform="translate(285.9 257.9) rotate(-90) scale(1 1.34)" stroke="#222" stroke-width="0.25">Water contact angle</text>
<text font-size="9.01" fill="#333" transform="translate(286.7 191) rotate(-90) scale(1 0.94)">(</text>
<text font-size="6.74" fill="#222" transform="translate(285.9 187.3) rotate(-90) scale(1 1.47)" stroke="#222" stroke-width="0.25">degree</text>
<text font-size="9.01" fill="#333" transform="translate(286.7 165.2) rotate(-90) scale(1 0.94)">)</text>
<rect x="306.8" y="144.3" width="22.1" height="17.4" fill="#121212"/>
<text x="317.85" y="160.4" text-anchor="middle" font-size="18.4" fill="#fff">d</text>
<rect x="2.6" y="286" width="271.4" height="116.3" fill="#34322e"/>
<rect x="274.2" y="286.6" width="271.6" height="115.7" fill="#34322e"/>
<rect x="2.2" y="402.3" width="271.6" height="116.9" fill="#3e3e3e"/>
<rect x="273.8" y="402.5" width="273.6" height="116.7" fill="#3e3e3e"/>
<rect x="5.2" y="313.5" width="49.3" height="6.7" fill="#34322e"/>
<path d="M4.5,324.2 Q4.5,317.2 11.5,317.2 H48.2 Q55.2,317.2 55.2,324.2 V388.8 C55.2,396.5 50.2,399.8 45.2,399.8 H14.5 C9.5,399.8 4.5,396.5 4.5,388.8 Z" fill="url(#glass)"/>
<path d="M4.5,324.2 Q4.5,317.2 11.5,317.2 H48.2 Q55.2,317.2 55.2,324.2 V388.8 C55.2,396.5 50.2,399.8 45.2,399.8 H14.5 C9.5,399.8 4.5,396.5 4.5,388.8 Z" fill="url(#glassV)"/>
<path d="M5.1,351.8 H54.6 V388.3 C54.6,396 49.6,399.3 44.6,399.3 H15.1 C10.1,399.3 5.1,396 5.1,388.3 Z" fill="#e6e6d2"/>
<path d="M5.1,351.8 H54.6 V388.3 C54.6,396 49.6,399.3 44.6,399.3 H15.1 C10.1,399.3 5.1,396 5.1,388.3 Z" fill="url(#liqH)"/>
<path d="M5.1,351.8 H54.6 V388.3 C54.6,396 49.6,399.3 44.6,399.3 H15.1 C10.1,399.3 5.1,396 5.1,388.3 Z" fill="url(#liqV)"/>
<rect x="5.5" y="351.8" width="48.7" height="2.5" fill="#cfd2c2" opacity="0.6"/>
<rect x="5" y="286.8" width="49.7" height="28.7" rx="1.5" fill="url(#cg0)"/>
<rect x="30.86" y="287.3" width="0.6" height="27.2" fill="#8a8882"/>
<rect x="32.89" y="287.3" width="0.6" height="27.2" fill="#7a7872"/>
<rect x="34.92" y="287.3" width="0.5" height="27.2" fill="#8a8882"/>
<rect x="42.53" y="287.3" width="0.5" height="27.2" fill="#7a7872"/>
<rect x="5" y="286.8" width="49.7" height="28.7" fill="url(#capV)"/>
<rect x="59" y="313.5" width="50.4" height="6.7" fill="#34322e"/>
<path d="M58.3,324.2 Q58.3,317.2 65.3,317.2 H103.1 Q110.1,317.2 110.1,324.2 V388.8 C110.1,396.5 105.1,399.8 100.1,399.8 H68.3 C63.3,399.8 58.3,396.5 58.3,388.8 Z" fill="url(#glass)"/>
<path d="M58.3,324.2 Q58.3,317.2 65.3,317.2 H103.1 Q110.1,317.2 110.1,324.2 V388.8 C110.1,396.5 105.1,399.8 100.1,399.8 H68.3 C63.3,399.8 58.3,396.5 58.3,388.8 Z" fill="url(#glassV)"/>
<path d="M58.9,351.8 H109.5 V388.3 C109.5,396 104.5,399.3 99.5,399.3 H68.9 C63.9,399.3 58.9,396 58.9,388.3 Z" fill="#e6ebe4"/>
<path d="M58.9,351.8 H109.5 V388.3 C109.5,396 104.5,399.3 99.5,399.3 H68.9 C63.9,399.3 58.9,396 58.9,388.3 Z" fill="url(#liqH)"/>
<path d="M58.9,351.8 H109.5 V388.3 C109.5,396 104.5,399.3 99.5,399.3 H68.9 C63.9,399.3 58.9,396 58.9,388.3 Z" fill="url(#liqV)"/>
<rect x="59.3" y="351.8" width="49.8" height="2.5" fill="#cfd2c2" opacity="0.6"/>
<rect x="58.8" y="286.8" width="50.8" height="28.7" rx="1.5" fill="url(#cg1)"/>
<rect x="84.2" y="287.3" width="0.6" height="27.2" fill="#7a7a76"/>
<rect x="87.31" y="287.3" width="0.6" height="27.2" fill="#6a6a66"/>
<rect x="97.15" y="287.3" width="0.5" height="27.2" fill="#6a6a66"/>
<rect x="58.8" y="286.8" width="50.8" height="28.7" fill="url(#capV)"/>
<rect x="113.6" y="313.5" width="50.4" height="6.7" fill="#34322e"/>
<path d="M112.9,324.2 Q112.9,317.2 119.9,317.2 H157.7 Q164.7,317.2 164.7,324.2 V388.8 C164.7,396.5 159.7,399.8 154.7,399.8 H122.9 C117.9,399.8 112.9,396.5 112.9,388.8 Z" fill="url(#glass)"/>
<path d="M112.9,324.2 Q112.9,317.2 119.9,317.2 H157.7 Q164.7,317.2 164.7,324.2 V388.8 C164.7,396.5 159.7,399.8 154.7,399.8 H122.9 C117.9,399.8 112.9,396.5 112.9,388.8 Z" fill="url(#glassV)"/>
<path d="M113.5,351.8 H164.1 V388.3 C164.1,396 159.1,399.3 154.1,399.3 H123.5 C118.5,399.3 113.5,396 113.5,388.3 Z" fill="#eaeeea"/>
<path d="M113.5,351.8 H164.1 V388.3 C164.1,396 159.1,399.3 154.1,399.3 H123.5 C118.5,399.3 113.5,396 113.5,388.3 Z" fill="url(#liqH)"/>
<path d="M113.5,351.8 H164.1 V388.3 C164.1,396 159.1,399.3 154.1,399.3 H123.5 C118.5,399.3 113.5,396 113.5,388.3 Z" fill="url(#liqV)"/>
<rect x="113.9" y="351.8" width="49.8" height="2.5" fill="#cfd2c2" opacity="0.6"/>
<rect x="113.4" y="286.8" width="50.8" height="28.7" rx="1.5" fill="url(#cg2)"/>
<rect x="128.44" y="287.3" width="0.6" height="27.2" fill="#5a5a58"/>
<rect x="131.55" y="287.3" width="0.6" height="27.2" fill="#6a6a68"/>
<rect x="143.98" y="287.3" width="0.6" height="27.2" fill="#c0c0bc"/>
<rect x="149.16" y="287.3" width="0.6" height="27.2" fill="#b8b8b4"/>
<rect x="113.4" y="286.8" width="50.8" height="28.7" fill="url(#capV)"/>
<rect x="168.2" y="313.5" width="50.3" height="6.7" fill="#34322e"/>
<path d="M167.5,324.2 Q167.5,317.2 174.5,317.2 H212.2 Q219.2,317.2 219.2,324.2 V388.8 C219.2,396.5 214.2,399.8 209.2,399.8 H177.5 C172.5,399.8 167.5,396.5 167.5,388.8 Z" fill="url(#glass)"/>
<path d="M167.5,324.2 Q167.5,317.2 174.5,317.2 H212.2 Q219.2,317.2 219.2,324.2 V388.8 C219.2,396.5 214.2,399.8 209.2,399.8 H177.5 C172.5,399.8 167.5,396.5 167.5,388.8 Z" fill="url(#glassV)"/>
<path d="M168.1,351.8 H218.6 V388.3 C218.6,396 213.6,399.3 208.6,399.3 H178.1 C173.1,399.3 168.1,396 168.1,388.3 Z" fill="#e9ece4"/>
<path d="M168.1,351.8 H218.6 V388.3 C218.6,396 213.6,399.3 208.6,399.3 H178.1 C173.1,399.3 168.1,396 168.1,388.3 Z" fill="url(#liqH)"/>
<path d="M168.1,351.8 H218.6 V388.3 C218.6,396 213.6,399.3 208.6,399.3 H178.1 C173.1,399.3 168.1,396 168.1,388.3 Z" fill="url(#liqV)"/>
<rect x="168.5" y="351.8" width="49.7" height="2.5" fill="#cfd2c2" opacity="0.6"/>
<rect x="168" y="286.8" width="50.7" height="28.7" rx="1.5" fill="url(#cg3)"/>
<rect x="194.38" y="287.3" width="0.6" height="27.2" fill="#8a8a86"/>
<rect x="196.97" y="287.3" width="0.6" height="27.2" fill="#9a9a96"/>
<rect x="200.07" y="287.3" width="0.5" height="27.2" fill="#8a8a86"/>
<rect x="168" y="286.8" width="50.7" height="28.7" fill="url(#capV)"/>
<rect x="222.8" y="313.5" width="49.3" height="6.7" fill="#34322e"/>
<path d="M222.1,324.2 Q222.1,317.2 229.1,317.2 H265.8 Q272.8,317.2 272.8,324.2 V388.8 C272.8,396.5 267.8,399.8 262.8,399.8 H232.1 C227.1,399.8 222.1,396.5 222.1,388.8 Z" fill="url(#glassE5)"/>
<path d="M222.1,324.2 Q222.1,317.2 229.1,317.2 H265.8 Q272.8,317.2 272.8,324.2 V388.8 C272.8,396.5 267.8,399.8 262.8,399.8 H232.1 C227.1,399.8 222.1,396.5 222.1,388.8 Z" fill="url(#glassV)"/>
<path d="M222.7,358 H272.2 V388.3 C272.2,396 267.2,399.3 262.2,399.3 H232.7 C227.7,399.3 222.7,396 222.7,388.3 Z" fill="#d4d4ca"/>
<path d="M222.7,358 H272.2 V388.3 C272.2,396 267.2,399.3 262.2,399.3 H232.7 C227.7,399.3 222.7,396 222.7,388.3 Z" fill="url(#liqH)"/>
<path d="M222.7,358 H272.2 V388.3 C272.2,396 267.2,399.3 262.2,399.3 H232.7 C227.7,399.3 222.7,396 222.7,388.3 Z" fill="url(#liqV)"/>
<rect x="223.1" y="358" width="48.7" height="2.5" fill="#b8b8b0" opacity="0.6"/>
<rect x="222.3" y="362" width="50.3" height="11.5" fill="#a4a49c"/><rect x="224.3" y="374" width="46.3" height="7" fill="#e0e0d6" opacity="0.7"/>
<rect x="222.6" y="286.8" width="49.7" height="28.7" rx="1.5" fill="url(#cg4)"/>
<rect x="243.39" y="287.3" width="0.6" height="27.2" fill="#9a9a96"/>
<rect x="246.44" y="287.3" width="0.6" height="27.2" fill="#a4a4a0"/>
<rect x="249.99" y="287.3" width="0.5" height="27.2" fill="#8a8a86"/>
<rect x="222.6" y="286.8" width="49.7" height="28.7" fill="url(#capV)"/>
<rect x="276.5" y="313.5" width="49.2" height="6.7" fill="#34322e"/>
<path d="M275.8,324.2 Q275.8,317.2 282.8,317.2 H319.4 Q326.4,317.2 326.4,324.2 V388.8 C326.4,396.5 321.4,399.8 316.4,399.8 H285.8 C280.8,399.8 275.8,396.5 275.8,388.8 Z" fill="url(#glassF)"/>
<path d="M275.8,324.2 Q275.8,317.2 282.8,317.2 H319.4 Q326.4,317.2 326.4,324.2 V388.8 C326.4,396.5 321.4,399.8 316.4,399.8 H285.8 C280.8,399.8 275.8,396.5 275.8,388.8 Z" fill="url(#glassV)"/>
<path d="M276.4,351.8 H325.8 V388.3 C325.8,396 320.8,399.3 315.8,399.3 H286.4 C281.4,399.3 276.4,396 276.4,388.3 Z" fill="#eaede4"/>
<path d="M276.4,351.8 H325.8 V388.3 C325.8,396 320.8,399.3 315.8,399.3 H286.4 C281.4,399.3 276.4,396 276.4,388.3 Z" fill="url(#liqH)"/>
<path d="M276.4,351.8 H325.8 V388.3 C325.8,396 320.8,399.3 315.8,399.3 H286.4 C281.4,399.3 276.4,396 276.4,388.3 Z" fill="url(#liqV)"/>
<rect x="276.8" y="351.8" width="48.6" height="2.5" fill="#cfd2c2" opacity="0.6"/>
<rect x="276.3" y="286.8" width="49.6" height="28.7" rx="1.5" fill="url(#cg5)"/>
<rect x="303.63" y="287.3" width="0.6" height="27.2" fill="#909088"/>
<rect x="307.17" y="287.3" width="0.6" height="27.2" fill="#a0a09a"/>
<rect x="311.22" y="287.3" width="0.5" height="27.2" fill="#8a8a86"/>
<rect x="276.3" y="286.8" width="49.6" height="28.7" fill="url(#capV)"/>
<rect x="331" y="313.5" width="49.9" height="6.7" fill="#34322e"/>
<path d="M330.3,324.2 Q330.3,317.2 337.3,317.2 H374.6 Q381.6,317.2 381.6,324.2 V388.8 C381.6,396.5 376.6,399.8 371.6,399.8 H340.3 C335.3,399.8 330.3,396.5 330.3,388.8 Z" fill="url(#glassF)"/>
<path d="M330.3,324.2 Q330.3,317.2 337.3,317.2 H374.6 Q381.6,317.2 381.6,324.2 V388.8 C381.6,396.5 376.6,399.8 371.6,399.8 H340.3 C335.3,399.8 330.3,396.5 330.3,388.8 Z" fill="url(#glassV)"/>
<path d="M330.9,351.8 H381 V388.3 C381,396 376,399.3 371,399.3 H340.9 C335.9,399.3 330.9,396 330.9,388.3 Z" fill="#e8eee8"/>
<path d="M330.9,351.8 H381 V388.3 C381,396 376,399.3 371,399.3 H340.9 C335.9,399.3 330.9,396 330.9,388.3 Z" fill="url(#liqH)"/>
<path d="M330.9,351.8 H381 V388.3 C381,396 376,399.3 371,399.3 H340.9 C335.9,399.3 330.9,396 330.9,388.3 Z" fill="url(#liqV)"/>
<rect x="331.3" y="351.8" width="49.3" height="2.5" fill="#cfd2c2" opacity="0.6"/>
<rect x="330.8" y="286.8" width="50.3" height="28.7" rx="1.5" fill="url(#cg6)"/>
<rect x="358.51" y="287.3" width="0.6" height="27.2" fill="#a4a49e"/>
<rect x="362.11" y="287.3" width="0.6" height="27.2" fill="#b0b0aa"/>
<rect x="366.21" y="287.3" width="0.6" height="27.2" fill="#a4a49e"/>
<rect x="330.8" y="286.8" width="50.3" height="28.7" fill="url(#capV)"/>
<rect x="385.3" y="313.5" width="50.2" height="6.7" fill="#34322e"/>
<path d="M384.6,324.2 Q384.6,317.2 391.6,317.2 H429.2 Q436.2,317.2 436.2,324.2 V388.8 C436.2,396.5 431.2,399.8 426.2,399.8 H394.6 C389.6,399.8 384.6,396.5 384.6,388.8 Z" fill="url(#glassF)"/>
<path d="M384.6,324.2 Q384.6,317.2 391.6,317.2 H429.2 Q436.2,317.2 436.2,324.2 V388.8 C436.2,396.5 431.2,399.8 426.2,399.8 H394.6 C389.6,399.8 384.6,396.5 384.6,388.8 Z" fill="url(#glassV)"/>
<path d="M385.2,351.8 H435.6 V388.3 C435.6,396 430.6,399.3 425.6,399.3 H395.2 C390.2,399.3 385.2,396 385.2,388.3 Z" fill="#eaedea"/>
<path d="M385.2,351.8 H435.6 V388.3 C435.6,396 430.6,399.3 425.6,399.3 H395.2 C390.2,399.3 385.2,396 385.2,388.3 Z" fill="url(#liqH)"/>
<path d="M385.2,351.8 H435.6 V388.3 C435.6,396 430.6,399.3 425.6,399.3 H395.2 C390.2,399.3 385.2,396 385.2,388.3 Z" fill="url(#liqV)"/>
<rect x="385.6" y="351.8" width="49.6" height="2.5" fill="#cfd2c2" opacity="0.6"/>
<rect x="385.1" y="286.8" width="50.6" height="28.7" rx="1.5" fill="url(#cg7)"/>
<rect x="407.82" y="287.3" width="0.6" height="27.2" fill="#8a8a86"/>
<rect x="410.4" y="287.3" width="0.6" height="27.2" fill="#9a9a96"/>
<rect x="413.5" y="287.3" width="0.5" height="27.2" fill="#909088"/>
<rect x="385.1" y="286.8" width="50.6" height="28.7" fill="url(#capV)"/>
<rect x="439.5" y="313.5" width="49.4" height="6.7" fill="#34322e"/>
<path d="M438.8,324.2 Q438.8,317.2 445.8,317.2 H482.6 Q489.6,317.2 489.6,324.2 V388.8 C489.6,396.5 484.6,399.8 479.6,399.8 H448.8 C443.8,399.8 438.8,396.5 438.8,388.8 Z" fill="url(#glassF)"/>
<path d="M438.8,324.2 Q438.8,317.2 445.8,317.2 H482.6 Q489.6,317.2 489.6,324.2 V388.8 C489.6,396.5 484.6,399.8 479.6,399.8 H448.8 C443.8,399.8 438.8,396.5 438.8,388.8 Z" fill="url(#glassV)"/>
<path d="M439.4,351.8 H489 V388.3 C489,396 484,399.3 479,399.3 H449.4 C444.4,399.3 439.4,396 439.4,388.3 Z" fill="#eaece2"/>
<path d="M439.4,351.8 H489 V388.3 C489,396 484,399.3 479,399.3 H449.4 C444.4,399.3 439.4,396 439.4,388.3 Z" fill="url(#liqH)"/>
<path d="M439.4,351.8 H489 V388.3 C489,396 484,399.3 479,399.3 H449.4 C444.4,399.3 439.4,396 439.4,388.3 Z" fill="url(#liqV)"/>
<rect x="439.8" y="351.8" width="48.8" height="2.5" fill="#cfd2c2" opacity="0.6"/>
<rect x="439.3" y="286.8" width="49.8" height="28.7" rx="1.5" fill="url(#cg8)"/>
<rect x="470.3" y="287.3" width="0.6" height="27.2" fill="#b4b4ae"/>
<rect x="473.34" y="287.3" width="0.6" height="27.2" fill="#c0c0ba"/>
<rect x="476.9" y="287.3" width="0.5" height="27.2" fill="#b0b0aa"/>
<rect x="439.3" y="286.8" width="49.8" height="28.7" fill="url(#capV)"/>
<rect x="494.9" y="313.5" width="48.4" height="6.7" fill="#34322e"/>
<path d="M494.2,324.2 Q494.2,317.2 501.2,317.2 H537 Q544,317.2 544,324.2 V388.8 C544,396.5 539,399.8 534,399.8 H504.2 C499.2,399.8 494.2,396.5 494.2,388.8 Z" fill="url(#glassF)"/>
<path d="M494.2,324.2 Q494.2,317.2 501.2,317.2 H537 Q544,317.2 544,324.2 V388.8 C544,396.5 539,399.8 534,399.8 H504.2 C499.2,399.8 494.2,396.5 494.2,388.8 Z" fill="url(#glassV)"/>
<path d="M494.8,351.8 H543.4 V388.3 C543.4,396 538.4,399.3 533.4,399.3 H504.8 C499.8,399.3 494.8,396 494.8,388.3 Z" fill="#eaece4"/>
<path d="M494.8,351.8 H543.4 V388.3 C543.4,396 538.4,399.3 533.4,399.3 H504.8 C499.8,399.3 494.8,396 494.8,388.3 Z" fill="url(#liqH)"/>
<path d="M494.8,351.8 H543.4 V388.3 C543.4,396 538.4,399.3 533.4,399.3 H504.8 C499.8,399.3 494.8,396 494.8,388.3 Z" fill="url(#liqV)"/>
<rect x="495.2" y="351.8" width="47.8" height="2.5" fill="#cfd2c2" opacity="0.6"/>
<rect x="494.7" y="286.8" width="48.8" height="28.7" rx="1.5" fill="url(#cg9)"/>
<rect x="524.08" y="287.3" width="0.6" height="27.2" fill="#b4b4ae"/>
<rect x="527.07" y="287.3" width="0.6" height="27.2" fill="#c0c0ba"/>
<rect x="530.06" y="287.3" width="0.5" height="27.2" fill="#b0b0aa"/>
<rect x="494.7" y="286.8" width="48.8" height="28.7" fill="url(#capV)"/>
<rect x="3.9" y="429.5" width="50.4" height="7" fill="#34322e"/>
<path d="M3.2,440.5 Q3.2,433.5 10.2,433.5 H48 Q55,433.5 55,440.5 V507.3 C55,515 50,518.3 45,518.3 H13.2 C8.2,518.3 3.2,515 3.2,507.3 Z" fill="url(#glassG)"/>
<path d="M3.2,440.5 Q3.2,433.5 10.2,433.5 H48 Q55,433.5 55,440.5 V507.3 C55,515 50,518.3 45,518.3 H13.2 C8.2,518.3 3.2,515 3.2,507.3 Z" fill="url(#glassV)"/>
<path d="M3.8,466.5 H54.4 V506.8 C54.4,514.5 49.4,517.8 44.4,517.8 H13.8 C8.8,517.8 3.8,514.5 3.8,506.8 Z" fill="#e9ebdf"/>
<path d="M3.8,466.5 H54.4 V506.8 C54.4,514.5 49.4,517.8 44.4,517.8 H13.8 C8.8,517.8 3.8,514.5 3.8,506.8 Z" fill="url(#liqH)"/>
<path d="M3.8,466.5 H54.4 V506.8 C54.4,514.5 49.4,517.8 44.4,517.8 H13.8 C8.8,517.8 3.8,514.5 3.8,506.8 Z" fill="url(#liqV)"/>
<rect x="4.2" y="466.5" width="49.8" height="2.5" fill="#cfd2c2" opacity="0.6"/>
<rect x="3.7" y="403.8" width="50.8" height="27.7" rx="1.5" fill="url(#cg10)"/>
<rect x="34.28" y="404.3" width="0.7" height="26.2" fill="#b8b8b8"/>
<rect x="37.39" y="404.3" width="0.6" height="26.2" fill="#c8c8c8"/>
<rect x="40.5" y="404.3" width="0.7" height="26.2" fill="#b0b0b0"/>
<rect x="3.7" y="403.8" width="50.8" height="27.7" fill="url(#capV)"/>
<rect x="59.8" y="429.5" width="49.3" height="7" fill="#34322e"/>
<path d="M59.1,440.5 Q59.1,433.5 66.1,433.5 H102.8 Q109.8,433.5 109.8,440.5 V507.3 C109.8,515 104.8,518.3 99.8,518.3 H69.1 C64.1,518.3 59.1,515 59.1,507.3 Z" fill="url(#glassG)"/>
<path d="M59.1,440.5 Q59.1,433.5 66.1,433.5 H102.8 Q109.8,433.5 109.8,440.5 V507.3 C109.8,515 104.8,518.3 99.8,518.3 H69.1 C64.1,518.3 59.1,515 59.1,507.3 Z" fill="url(#glassV)"/>
<path d="M59.7,466.5 H109.2 V506.8 C109.2,514.5 104.2,517.8 99.2,517.8 H69.7 C64.7,517.8 59.7,514.5 59.7,506.8 Z" fill="#e9ebe4"/>
<path d="M59.7,466.5 H109.2 V506.8 C109.2,514.5 104.2,517.8 99.2,517.8 H69.7 C64.7,517.8 59.7,514.5 59.7,506.8 Z" fill="url(#liqH)"/>
<path d="M59.7,466.5 H109.2 V506.8 C109.2,514.5 104.2,517.8 99.2,517.8 H69.7 C64.7,517.8 59.7,514.5 59.7,506.8 Z" fill="url(#liqV)"/>
<rect x="60.1" y="466.5" width="48.7" height="2.5" fill="#cfd2c2" opacity="0.6"/>
<rect x="59.6" y="403.8" width="49.7" height="27.7" rx="1.5" fill="url(#cg11)"/>
<rect x="86.98" y="404.3" width="0.6" height="26.2" fill="#b0b0b0"/>
<rect x="90.53" y="404.3" width="0.7" height="26.2" fill="#c0c0c0"/>
<rect x="93.58" y="404.3" width="0.6" height="26.2" fill="#a8a8a8"/>
<rect x="59.6" y="403.8" width="49.7" height="27.7" fill="url(#capV)"/>
<rect x="113" y="429.5" width="50.9" height="7" fill="#34322e"/>
<path d="M112.3,440.5 Q112.3,433.5 119.3,433.5 H157.6 Q164.6,433.5 164.6,440.5 V507.3 C164.6,515 159.6,518.3 154.6,518.3 H122.3 C117.3,518.3 112.3,515 112.3,507.3 Z" fill="url(#glassG)"/>
<path d="M112.3,440.5 Q112.3,433.5 119.3,433.5 H157.6 Q164.6,433.5 164.6,440.5 V507.3 C164.6,515 159.6,518.3 154.6,518.3 H122.3 C117.3,518.3 112.3,515 112.3,507.3 Z" fill="url(#glassV)"/>
<path d="M112.9,466.5 H164 V506.8 C164,514.5 159,517.8 154,517.8 H122.9 C117.9,517.8 112.9,514.5 112.9,506.8 Z" fill="#ebece6"/>
<path d="M112.9,466.5 H164 V506.8 C164,514.5 159,517.8 154,517.8 H122.9 C117.9,517.8 112.9,514.5 112.9,506.8 Z" fill="url(#liqH)"/>
<path d="M112.9,466.5 H164 V506.8 C164,514.5 159,517.8 154,517.8 H122.9 C117.9,517.8 112.9,514.5 112.9,506.8 Z" fill="url(#liqV)"/>
<rect x="113.3" y="466.5" width="50.3" height="2.5" fill="#cfd2c2" opacity="0.6"/>
<rect x="112.8" y="403.8" width="51.3" height="27.7" rx="1.5" fill="url(#cg12)"/>
<rect x="138.45" y="404.3" width="0.6" height="26.2" fill="#b0b0b0"/>
<rect x="141.59" y="404.3" width="0.7" height="26.2" fill="#c0c0c0"/>
<rect x="112.8" y="403.8" width="51.3" height="27.7" fill="url(#capV)"/>
<rect x="167.3" y="429.5" width="50.6" height="7" fill="#34322e"/>
<path d="M166.6,440.5 Q166.6,433.5 173.6,433.5 H211.6 Q218.6,433.5 218.6,440.5 V507.3 C218.6,515 213.6,518.3 208.6,518.3 H176.6 C171.6,518.3 166.6,515 166.6,507.3 Z" fill="url(#glassG)"/>
<path d="M166.6,440.5 Q166.6,433.5 173.6,433.5 H211.6 Q218.6,433.5 218.6,440.5 V507.3 C218.6,515 213.6,518.3 208.6,518.3 H176.6 C171.6,518.3 166.6,515 166.6,507.3 Z" fill="url(#glassV)"/>
<path d="M167.2,466.5 H218 V506.8 C218,514.5 213,517.8 208,517.8 H177.2 C172.2,517.8 167.2,514.5 167.2,506.8 Z" fill="#ebece6"/>
<path d="M167.2,466.5 H218 V506.8 C218,514.5 213,517.8 208,517.8 H177.2 C172.2,517.8 167.2,514.5 167.2,506.8 Z" fill="url(#liqH)"/>
<path d="M167.2,466.5 H218 V506.8 C218,514.5 213,517.8 208,517.8 H177.2 C172.2,517.8 167.2,514.5 167.2,506.8 Z" fill="url(#liqV)"/>
<rect x="167.6" y="466.5" width="50" height="2.5" fill="#cfd2c2" opacity="0.6"/>
<rect x="167.1" y="403.8" width="51" height="27.7" rx="1.5" fill="url(#cg13)"/>
<rect x="195.2" y="404.3" width="0.6" height="26.2" fill="#c0c0c0"/>
<rect x="198.84" y="404.3" width="0.7" height="26.2" fill="#c8c8c8"/>
<rect x="167.1" y="403.8" width="51" height="27.7" fill="url(#capV)"/>
<rect x="221.3" y="429.5" width="50.6" height="7" fill="#34322e"/>
<path d="M220.6,440.5 Q220.6,433.5 227.6,433.5 H265.6 Q272.6,433.5 272.6,440.5 V507.3 C272.6,515 267.6,518.3 262.6,518.3 H230.6 C225.6,518.3 220.6,515 220.6,507.3 Z" fill="url(#glassG)"/>
<path d="M220.6,440.5 Q220.6,433.5 227.6,433.5 H265.6 Q272.6,433.5 272.6,440.5 V507.3 C272.6,515 267.6,518.3 262.6,518.3 H230.6 C225.6,518.3 220.6,515 220.6,507.3 Z" fill="url(#glassV)"/>
<path d="M221.2,466.5 H272 V506.8 C272,514.5 267,517.8 262,517.8 H231.2 C226.2,517.8 221.2,514.5 221.2,506.8 Z" fill="#e9ebe4"/>
<path d="M221.2,466.5 H272 V506.8 C272,514.5 267,517.8 262,517.8 H231.2 C226.2,517.8 221.2,514.5 221.2,506.8 Z" fill="url(#liqH)"/>
<path d="M221.2,466.5 H272 V506.8 C272,514.5 267,517.8 262,517.8 H231.2 C226.2,517.8 221.2,514.5 221.2,506.8 Z" fill="url(#liqV)"/>
<rect x="221.6" y="466.5" width="50" height="2.5" fill="#cfd2c2" opacity="0.6"/>
<rect x="221.1" y="403.8" width="51" height="27.7" rx="1.5" fill="url(#cg14)"/>
<rect x="246.6" y="404.3" width="0.6" height="26.2" fill="#b0b0b0"/>
<rect x="250.76" y="404.3" width="0.7" height="26.2" fill="#c0c0c0"/>
<rect x="221.1" y="403.8" width="51" height="27.7" fill="url(#capV)"/>
<rect x="275.7" y="429.5" width="49.4" height="7" fill="#34322e"/>
<path d="M275,440.5 Q275,433.5 282,433.5 H318.8 Q325.8,433.5 325.8,440.5 V507.3 C325.8,515 320.8,518.3 315.8,518.3 H285 C280,518.3 275,515 275,507.3 Z" fill="url(#glassG)"/>
<path d="M275,440.5 Q275,433.5 282,433.5 H318.8 Q325.8,433.5 325.8,440.5 V507.3 C325.8,515 320.8,518.3 315.8,518.3 H285 C280,518.3 275,515 275,507.3 Z" fill="url(#glassV)"/>
<path d="M275.6,466.5 H325.2 V506.8 C325.2,514.5 320.2,517.8 315.2,517.8 H285.6 C280.6,517.8 275.6,514.5 275.6,506.8 Z" fill="#e9ebe4"/>
<path d="M275.6,466.5 H325.2 V506.8 C325.2,514.5 320.2,517.8 315.2,517.8 H285.6 C280.6,517.8 275.6,514.5 275.6,506.8 Z" fill="url(#liqH)"/>
<path d="M275.6,466.5 H325.2 V506.8 C325.2,514.5 320.2,517.8 315.2,517.8 H285.6 C280.6,517.8 275.6,514.5 275.6,506.8 Z" fill="url(#liqV)"/>
<rect x="276" y="466.5" width="48.8" height="2.5" fill="#cfd2c2" opacity="0.6"/>
<rect x="275.5" y="403.8" width="49.8" height="27.7" rx="1.5" fill="url(#cg15)"/>
<rect x="305.48" y="404.3" width="0.6" height="26.2" fill="#b0b0b0"/>
<rect x="308.53" y="404.3" width="0.7" height="26.2" fill="#c0c0c0"/>
<rect x="275.5" y="403.8" width="49.8" height="27.7" fill="url(#capV)"/>
<rect x="330.8" y="429.5" width="48.2" height="7" fill="#34322e"/>
<path d="M330.1,440.5 Q330.1,433.5 337.1,433.5 H372.7 Q379.7,433.5 379.7,440.5 V507.3 C379.7,515 374.7,518.3 369.7,518.3 H340.1 C335.1,518.3 330.1,515 330.1,507.3 Z" fill="url(#glassG)"/>
<path d="M330.1,440.5 Q330.1,433.5 337.1,433.5 H372.7 Q379.7,433.5 379.7,440.5 V507.3 C379.7,515 374.7,518.3 369.7,518.3 H340.1 C335.1,518.3 330.1,515 330.1,507.3 Z" fill="url(#glassV)"/>
<path d="M330.7,469.5 H379.1 V506.8 C379.1,514.5 374.1,517.8 369.1,517.8 H340.7 C335.7,517.8 330.7,514.5 330.7,506.8 Z" fill="#f5f6f3"/>
<path d="M330.7,469.5 H379.1 V506.8 C379.1,514.5 374.1,517.8 369.1,517.8 H340.7 C335.7,517.8 330.7,514.5 330.7,506.8 Z" fill="url(#liqH)"/>
<path d="M330.7,469.5 H379.1 V506.8 C379.1,514.5 374.1,517.8 369.1,517.8 H340.7 C335.7,517.8 330.7,514.5 330.7,506.8 Z" fill="url(#liqV)"/>
<rect x="331.1" y="469.5" width="47.6" height="2.5" fill="#eef0ee" opacity="0.6"/>
<rect x="330.6" y="403.8" width="48.6" height="27.7" rx="1.5" fill="url(#cg16)"/>
<rect x="352.42" y="404.3" width="0.6" height="26.2" fill="#6a6a6a"/>
<rect x="357.38" y="404.3" width="0.6" height="26.2" fill="#7a7a7a"/>
<rect x="364.82" y="404.3" width="0.6" height="26.2" fill="#6a6a6a"/>
<rect x="370.77" y="404.3" width="0.6" height="26.2" fill="#7a7a7a"/>
<rect x="330.6" y="403.8" width="48.6" height="27.7" fill="url(#capV)"/>
<rect x="383.9" y="429.5" width="50" height="7" fill="#34322e"/>
<path d="M383.2,440.5 Q383.2,433.5 390.2,433.5 H427.6 Q434.6,433.5 434.6,440.5 V507.3 C434.6,515 429.6,518.3 424.6,518.3 H393.2 C388.2,518.3 383.2,515 383.2,507.3 Z" fill="url(#glassG)"/>
<path d="M383.2,440.5 Q383.2,433.5 390.2,433.5 H427.6 Q434.6,433.5 434.6,440.5 V507.3 C434.6,515 429.6,518.3 424.6,518.3 H393.2 C388.2,518.3 383.2,515 383.2,507.3 Z" fill="url(#glassV)"/>
<path d="M383.8,466.5 H434 V506.8 C434,514.5 429,517.8 424,517.8 H393.8 C388.8,517.8 383.8,514.5 383.8,506.8 Z" fill="#ebece7"/>
<path d="M383.8,466.5 H434 V506.8 C434,514.5 429,517.8 424,517.8 H393.8 C388.8,517.8 383.8,514.5 383.8,506.8 Z" fill="url(#liqH)"/>
<path d="M383.8,466.5 H434 V506.8 C434,514.5 429,517.8 424,517.8 H393.8 C388.8,517.8 383.8,514.5 383.8,506.8 Z" fill="url(#liqV)"/>
<rect x="384.2" y="466.5" width="49.4" height="2.5" fill="#cfd2c2" opacity="0.6"/>
<rect x="383.7" y="403.8" width="50.4" height="27.7" rx="1.5" fill="url(#cg17)"/>
<rect x="411.47" y="404.3" width="0.6" height="26.2" fill="#c0c0c0"/>
<rect x="415.07" y="404.3" width="0.7" height="26.2" fill="#c8c8c8"/>
<rect x="383.7" y="403.8" width="50.4" height="27.7" fill="url(#capV)"/>
<rect x="438.1" y="429.5" width="50.8" height="7" fill="#34322e"/>
<path d="M437.4,440.5 Q437.4,433.5 444.4,433.5 H482.6 Q489.6,433.5 489.6,440.5 V507.3 C489.6,515 484.6,518.3 479.6,518.3 H447.4 C442.4,518.3 437.4,515 437.4,507.3 Z" fill="url(#glassG)"/>
<path d="M437.4,440.5 Q437.4,433.5 444.4,433.5 H482.6 Q489.6,433.5 489.6,440.5 V507.3 C489.6,515 484.6,518.3 479.6,518.3 H447.4 C442.4,518.3 437.4,515 437.4,507.3 Z" fill="url(#glassV)"/>
<path d="M438,466.5 H489 V506.8 C489,514.5 484,517.8 479,517.8 H448 C443,517.8 438,514.5 438,506.8 Z" fill="#ebede9"/>
<path d="M438,466.5 H489 V506.8 C489,514.5 484,517.8 479,517.8 H448 C443,517.8 438,514.5 438,506.8 Z" fill="url(#liqH)"/>
<path d="M438,466.5 H489 V506.8 C489,514.5 484,517.8 479,517.8 H448 C443,517.8 438,514.5 438,506.8 Z" fill="url(#liqV)"/>
<rect x="438.4" y="466.5" width="50.2" height="2.5" fill="#cfd2c2" opacity="0.6"/>
<rect x="437.9" y="403.8" width="51.2" height="27.7" rx="1.5" fill="url(#cg18)"/>
<rect x="466.11" y="404.3" width="0.6" height="26.2" fill="#b0b0b0"/>
<rect x="469.76" y="404.3" width="0.7" height="26.2" fill="#c0c0c0"/>
<rect x="473.94" y="404.3" width="0.6" height="26.2" fill="#b0b0b0"/>
<rect x="437.9" y="403.8" width="51.2" height="27.7" fill="url(#capV)"/>
<rect x="492.5" y="429.5" width="51.3" height="7" fill="#34322e"/>
<path d="M491.8,440.5 Q491.8,433.5 498.8,433.5 H537.5 Q544.5,433.5 544.5,440.5 V507.3 C544.5,515 539.5,518.3 534.5,518.3 H501.8 C496.8,518.3 491.8,515 491.8,507.3 Z" fill="url(#glassG)"/>
<path d="M491.8,440.5 Q491.8,433.5 498.8,433.5 H537.5 Q544.5,433.5 544.5,440.5 V507.3 C544.5,515 539.5,518.3 534.5,518.3 H501.8 C496.8,518.3 491.8,515 491.8,507.3 Z" fill="url(#glassV)"/>
<path d="M492.4,466.5 H543.9 V506.8 C543.9,514.5 538.9,517.8 533.9,517.8 H502.4 C497.4,517.8 492.4,514.5 492.4,506.8 Z" fill="#ebece7"/>
<path d="M492.4,466.5 H543.9 V506.8 C543.9,514.5 538.9,517.8 533.9,517.8 H502.4 C497.4,517.8 492.4,514.5 492.4,506.8 Z" fill="url(#liqH)"/>
<path d="M492.4,466.5 H543.9 V506.8 C543.9,514.5 538.9,517.8 533.9,517.8 H502.4 C497.4,517.8 492.4,514.5 492.4,506.8 Z" fill="url(#liqV)"/>
<rect x="492.8" y="466.5" width="50.7" height="2.5" fill="#cfd2c2" opacity="0.6"/>
<rect x="492.3" y="403.8" width="51.7" height="27.7" rx="1.5" fill="url(#cg19)"/>
<rect x="520.78" y="404.3" width="0.6" height="26.2" fill="#c0c0c0"/>
<rect x="524.47" y="404.3" width="0.7" height="26.2" fill="#c8c8c8"/>
<rect x="528.69" y="404.3" width="0.6" height="26.2" fill="#b8b8b8"/>
<rect x="492.3" y="403.8" width="51.7" height="27.7" fill="url(#capV)"/>
<text font-size="8.2" font-weight="bold" fill="#1c1ce0" transform="translate(16 346.6) scale(1 1.05)">1.5mL</text>
<text font-size="8.2" font-weight="bold" fill="#1c1ce0" transform="translate(71.05 346.6) scale(1 1.05)">2.5mL</text>
<text font-size="8.2" font-weight="bold" fill="#1c1ce0" transform="translate(125.15 346.6) scale(1 1.05)">3.5mL</text>
<text font-size="8.2" font-weight="bold" fill="#1c1ce0" transform="translate(179.75 346.6) scale(1 1.05)">4.5mL</text>
<text font-size="8.2" font-weight="bold" fill="#1c1ce0" transform="translate(234.15 346.6) scale(1 1.05)">5.5mL</text>
<text font-size="8.2" font-weight="bold" fill="#1c1ce0" transform="translate(287.65 346.6) scale(1 1.05)">2.0mL</text>
<text font-size="8.2" font-weight="bold" fill="#1c1ce0" transform="translate(343.45 346.6) scale(1 1.05)">2.5mL</text>
<text font-size="8.2" font-weight="bold" fill="#1c1ce0" transform="translate(398.05 346.6) scale(1 1.05)">3.0mL</text>
<text font-size="8.2" font-weight="bold" fill="#1c1ce0" transform="translate(451.05 346.6) scale(1 1.05)">3.5mL</text>
<text font-size="8.2" font-weight="bold" fill="#1c1ce0" transform="translate(505.75 346.6) scale(1 1.05)">4.0mL</text>
<text font-size="8.4" font-weight="bold" fill="#1c1ce0" transform="translate(27.96 460.7) scale(1 1.04)">0</text>
<text font-size="8.4" font-weight="bold" fill="#1c1ce0" transform="translate(74.29 460.7) scale(1 1.04)">10%</text>
<text font-size="8.4" font-weight="bold" fill="#1c1ce0" transform="translate(125.29 460.7) scale(1 1.04)">20%</text>
<text font-size="8.4" font-weight="bold" fill="#1c1ce0" transform="translate(184.79 460.7) scale(1 1.04)">30%</text>
<text font-size="8.4" font-weight="bold" fill="#1c1ce0" transform="translate(239.59 460.7) scale(1 1.04)">40%</text>
<text font-size="8.4" font-weight="bold" fill="#1c1ce0" transform="translate(290.56 460.7) scale(1 1.04)">0mg</text>
<text font-size="8.4" font-weight="bold" fill="#1c1ce0" transform="translate(337.09 460.7) scale(1 1.04)">100mg</text>
<text font-size="8.4" font-weight="bold" fill="#1c1ce0" transform="translate(395.29 460.7) scale(1 1.04)">235mg</text>
<text font-size="8.4" font-weight="bold" fill="#1c1ce0" transform="translate(450.49 460.7) scale(1 1.04)">335mg</text>
<text font-size="8.4" font-weight="bold" fill="#1c1ce0" transform="translate(505.69 460.7) scale(1 1.04)">500mg</text>
<rect x="4.6" y="350.4" width="267.6" height="21.8" fill="none" stroke="#ff1a1a" stroke-width="1.4" stroke-dasharray="1.2,1.0"/>
<rect x="277.5" y="350.3" width="266.3" height="20.9" fill="none" stroke="#ff1a1a" stroke-width="1.4" stroke-dasharray="1.2,1.0"/>
<rect x="4.9" y="464" width="268.5" height="21.6" fill="none" stroke="#ff1a1a" stroke-width="1.4" stroke-dasharray="1.2,1.0"/>
<rect x="276.7" y="463.7" width="268.9" height="21.5" fill="none" stroke="#ff1a1a" stroke-width="1.4" stroke-dasharray="1.2,1.0"/>
<rect x="2.6" y="286.2" width="17.2" height="17.8" fill="#141414"/>
<text x="11.05" y="301.6" text-anchor="middle" font-size="17.5" fill="#fff">e</text>
<rect x="275.3" y="286.6" width="19.9" height="24.4" fill="#141414"/>
<text x="285.4" y="305" text-anchor="middle" font-size="18" fill="#fff">f</text>
<rect x="2.6" y="403.7" width="19.7" height="27.8" fill="#141414"/>
<text x="12.4" y="422.3" text-anchor="middle" font-size="17.6" fill="#fff">g</text>
<rect x="274.4" y="402.7" width="20.4" height="29.3" fill="#141414"/>
<text x="284.6" y="422.1" text-anchor="middle" font-size="18" fill="#fff">h</text>
</svg>
</body></html>
